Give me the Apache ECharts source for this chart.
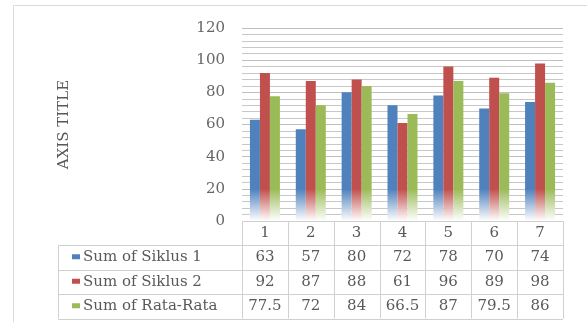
<!DOCTYPE html>
<html>
<head>
<meta charset="utf-8">
<style>
  html, body { margin: 0; padding: 0; background: #ffffff; }
  #chart { width: 587px; height: 322px; }
</style>
<script src="https://cdn.jsdelivr.net/npm/echarts@6/dist/echarts.min.js"></script>
</head>
<body>
<div id="chart"></div>
<script>
// Cycle numbers along the category axis
const categories = ['1', '2', '3', '4', '5', '6', '7'];
// Series values
const siklus1 = [63, 57, 80, 72, 78, 70, 74];
const siklus2 = [92, 87, 88, 61, 96, 89, 98];
const rataRata = [77.5, 72, 84, 66.5, 87, 79.5, 86];
const seriesNames = ['Sum of Siklus 1', 'Sum of Siklus 2', 'Sum of Rata-Rata'];
const seriesValues = [siklus1, siklus2, rataRata];
// Value axis ticks
const yMin = 0, yMax = 120, yStep = 20;

const colors = ['#4f81bd', '#c0504d', '#9bbb59'];
const FONT = 'DejaVu Serif';
const TEXT = '#595959';
const LINE = '#d0d0d0';

const G = { left: 242, right: 24, top: 28, bottom: 101 };
const rowH = [24, 24.5, 24.5, 24.5]; // header row + three data rows

const chart = echarts.init(document.getElementById('chart'), null, { renderer: 'canvas' });

function fade(color) {
  // solid colour on top, washing out to white near the baseline
  return {
    type: 'linear', global: true, x: 0, y: 150, x2: 0, y2: 221,
    colorStops: [
      { offset: 0, color: color },
      { offset: 0.55, color: color },
      { offset: 1, color: '#ffffff' }
    ]
  };
}

chart.setOption({
  animation: false,
  grid: { left: G.left, right: G.right, top: G.top, bottom: G.bottom, containLabel: false },
  xAxis: {
    type: 'category',
    data: categories,
    axisLine: { show: false },
    axisTick: { show: false },
    axisLabel: { show: true, margin: 5, color: TEXT, fontFamily: FONT, fontSize: 15 }
  },
  yAxis: {
    type: 'value',
    min: yMin, max: yMax, interval: yStep,
    name: 'AXIS TITLE',
    nameLocation: 'middle',
    nameRotate: 90,
    nameGap: 170,
    nameTextStyle: { color: TEXT, fontFamily: FONT, fontSize: 15 },
    axisLine: { show: false },
    axisTick: { show: false },
    axisLabel: { margin: 17, color: '#666666', fontFamily: FONT, fontSize: 15 },
    splitLine: { show: true, lineStyle: { color: '#c0c0c0', width: 1 } },
    minorTick: { show: false, splitNumber: 5 },
    minorSplitLine: { show: true, lineStyle: { color: '#c8c8c8', width: 1 } }
  },
  series: seriesValues.map((vals, i) => ({
    type: 'bar',
    name: seriesNames[i],
    data: vals,
    barWidth: 10,
    barGap: '0%',
    itemStyle: { color: fade(colors[i]) }
  }))
});

// Data table under the plot
function buildTable() {
  const base = 322 - G.bottom;       // y of zero line / table top
  const x0 = G.left, x1 = 587 - G.right;
  const legendLeft = 58;
  const n = categories.length;
  const colW = (x1 - x0) / n;
  const rows = [base];
  rowH.forEach(h => rows.push(rows[rows.length - 1] + h));

  const els = [];
  const line = (ax, ay, bx, by) => els.push({
    type: 'line', silent: true,
    shape: { x1: ax, y1: ay, x2: bx, y2: by },
    style: { stroke: LINE, lineWidth: 1 }
  });

  // outer frame
  els.push({
    type: 'rect', silent: true,
    shape: { x: 13.5, y: 5.5, width: 600, height: 330 },
    style: { fill: 'none', stroke: '#d9d9d9', lineWidth: 1 }
  });

  // horizontal rules
  line(x0, rows[0] + 0.5, x1, rows[0] + 0.5);
  for (let r = 1; r < rows.length; r++) {
    line(legendLeft, Math.round(rows[r]) + 0.5, x1, Math.round(rows[r]) + 0.5);
  }
  // vertical rules
  line(legendLeft + 0.5, rows[1], legendLeft + 0.5, rows[rows.length - 1]);
  for (let c = 0; c <= n; c++) {
    const x = Math.round(x0 + c * colW) + 0.5;
    line(x, rows[0], x, rows[rows.length - 1]);
  }

  // rows: legend key + values
  seriesValues.forEach((vals, r) => {
    const cy = (rows[r + 1] + rows[r + 2]) / 2;
    els.push({
      type: 'rect', silent: true,
      shape: { x: 72, y: cy - 3, width: 8, height: 5 },
      style: { fill: colors[r] }
    });
    els.push({
      type: 'text', silent: true,
      x: 83, y: cy,
      style: { text: seriesNames[r], fill: TEXT, font: '15px "' + FONT + '"', textAlign: 'left', textVerticalAlign: 'middle' }
    });
    vals.forEach((v, c) => {
      const cx = chart.convertToPixel({ xAxisIndex: 0 }, c);
      els.push({
        type: 'text', silent: true,
        x: cx, y: cy,
        style: { text: String(v), fill: TEXT, font: '15px "' + FONT + '"', textAlign: 'center', textVerticalAlign: 'middle' }
      });
    });
  });

  chart.setOption({ graphic: { elements: els } });
}
buildTable();
</script>
</body>
</html>
